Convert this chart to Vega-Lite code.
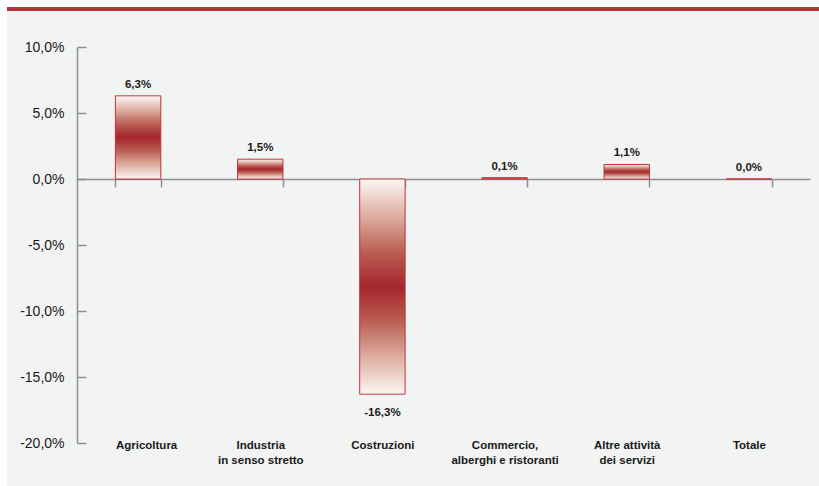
{
  "$schema": "https://vega.github.io/schema/vega-lite/v6.json",
  "width": 812,
  "height": 477,
  "autosize": {"type": "none"},
  "padding": {"left": 7, "top": 9, "right": 0, "bottom": 0},
  "background": "#ffffff",
  "data": {
    "values": [
      {"settore": "Agricoltura", "var": 0.063},
      {"settore": "Industria\nin senso stretto", "var": 0.015},
      {"settore": "Costruzioni", "var": -0.163},
      {"settore": "Commercio,\nalberghi e ristoranti", "var": 0.001},
      {"settore": "Altre attività\ndei servizi", "var": 0.011},
      {"settore": "Totale", "var": 0.0}
    ]
  },
  "encoding": {
    "x": {
      "field": "settore",
      "type": "nominal",
      "sort": null,
      "scale": {"range": [70, 803], "paddingInner": 0.628, "paddingOuter": 0.314},
      "axis": {
        "title": null,
        "orient": "bottom",
        "offset": -307,
        "tickBand": "extent",
        "tickSize": 8,
        "tickWidth": 1.5,
        "tickColor": "#8e8e8e",
        "domainColor": "#8e8e8e",
        "domainWidth": 1.5,
        "labelPadding": 252,
        "labelAngle": 0,
        "labelLimit": 0,
        "labelOffset": {"condition": {"test": "datum.value === 'Agricoltura'", "value": 8}, "value": 0},
        "labelFont": "Liberation Sans",
        "labelFontWeight": "bold",
        "labelFontSize": 11.5,
        "labelColor": "#1a1a1a",
        "labelLineHeight": 15,
        "labelExpr": "split(datum.label, '\\n')"
      }
    },
    "y": {
      "field": "var",
      "type": "quantitative",
      "scale": {"domain": [-0.2, 0.1], "range": [434, 38], "nice": false, "zero": false},
      "axis": {
        "title": null,
        "orient": "left",
        "offset": -70,
        "values": [-0.2, -0.15, -0.1, -0.05, 0, 0.05, 0.1],
        "format": ".1%",
        "grid": false,
        "tickSize": -9,
        "tickWidth": 1.5,
        "tickColor": "#8e8e8e",
        "domainColor": "#8e8e8e",
        "domainWidth": 1.5,
        "labelPadding": 22,
        "labelFont": "Liberation Sans",
        "labelFontSize": 14,
        "labelColor": "#1a1a1a"
      }
    }
  },
  "layer": [
    {
      "mark": {
        "type": "bar",
        "stroke": "#c2343d",
        "strokeWidth": 1,
        "fill": {
          "gradient": "linear",
          "x1": 0, "y1": 0, "x2": 0, "y2": 1,
          "stops": [
            {"offset": 0, "color": "#fdf7f5"},
            {"offset": 0.18, "color": "#dcaa9d"},
            {"offset": 0.35, "color": "#b85a4f"},
            {"offset": 0.5, "color": "#a5262f"},
            {"offset": 0.65, "color": "#b85a4f"},
            {"offset": 0.82, "color": "#dcaa9d"},
            {"offset": 1, "color": "#fdf7f5"}
          ]
        }
      }
    },
    {
      "transform": [{"filter": "datum['var'] >= 0"}],
      "mark": {
        "type": "text",
        "baseline": "alphabetic",
        "dy": -8,
        "font": "Liberation Sans",
        "fontWeight": "bold",
        "fontSize": 11.5,
        "color": "#1a1a1a"
      },
      "encoding": {"text": {"field": "var", "type": "quantitative", "format": ".1%"}}
    },
    {
      "transform": [{"filter": "datum['var'] < 0"}],
      "mark": {
        "type": "text",
        "baseline": "alphabetic",
        "dy": 22,
        "font": "Liberation Sans",
        "fontWeight": "bold",
        "fontSize": 11.5,
        "color": "#1a1a1a"
      },
      "encoding": {"text": {"field": "var", "type": "quantitative", "format": ".1%"}}
    }
  ],
  "config": {
    "locale": {
      "number": {
        "decimal": ",",
        "thousands": ".",
        "grouping": [3],
        "currency": ["", " €"],
        "minus": "-",
        "percent": "%"
      }
    },
    "view": {
      "fill": "#f2f3f3",
      "stroke": "#b5333b",
      "strokeWidth": 4,
      "strokeDash": [812, 4000]
    }
  }
}
